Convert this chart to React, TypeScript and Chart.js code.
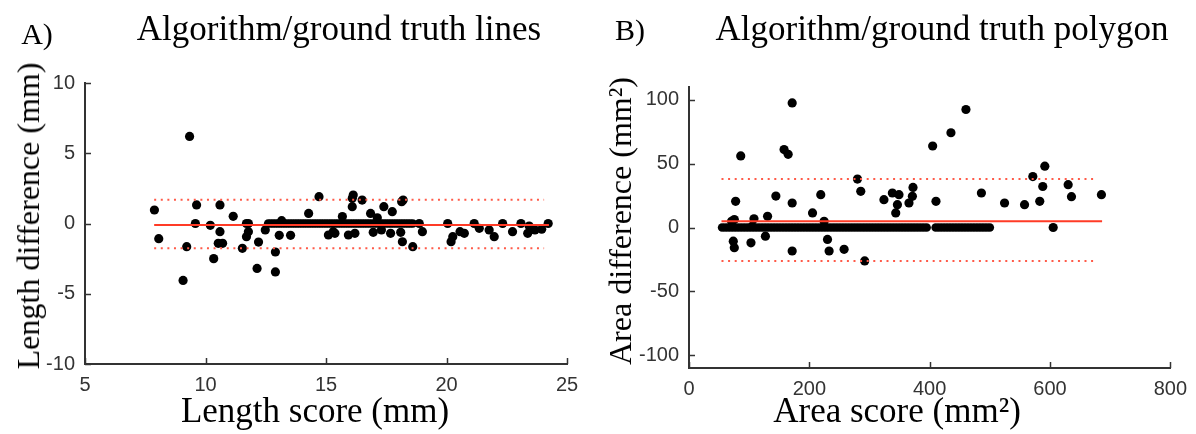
import React, { useEffect, useRef } from "react";
import { Chart, registerables } from "chart.js";

Chart.register(...registerables);

// ---------- Panel A data: Length ----------
const lengthScore = [
  7.88, 8.06, 9.07, 9.22, 9.34, 9.63, 9.58, 10.2, 10.34, 10.6, 10.6, 10.53, 10.71,
  11.15, 11.53, 11.7, 11.78, 11.78, 11.7, 12.14, 12.2, 12.48, 12.9, 12.9, 13.06,
  13.53, 13.16, 14.28, 14.71, 15.1, 16.13, 16.09, 16.09, 16.5, 18.2, 18.14, 17.4,
  17.75, 16.85, 15.68, 17.13, 15.37, 15.3, 15.93, 16.2, 16.96, 17.3, 17.68, 18.1,
  18.17, 18.6, 18.87, 19.0, 20.05, 20.19, 20.26, 20.56, 20.74, 21.15, 21.36, 21.77,
  21.98, 22.33, 22.74, 23.09, 23.43, 23.37, 23.67, 23.95, 24.22,
];
const lengthDiff = [
  0.96, -1.08, -4.05, -1.65, 6.2, 1.32, 0, -0.13, -2.5, 1.32, -0.58, -1.41, -1.41,
  0.51, -1.77, 0, 0, -0.58, -0.94, -3.2, -1.32, -0.46, -3.45, -2.03, -0.84,
  -0.84, 0.2, 0.72, 1.91, -0.82, 2.03, 1.8, 1.2, 1.67, 1.67, 1.55, 1.2,
  0.84, 0.72, 0.49, 0.41, -0.7, -0.58, -0.82, -0.7, -0.63, -0.46, -0.7, -0.63,
  -1.3, -1.65, 0, -0.58, 0, -1.3, -0.94, -0.58, -0.7, 0, -0.34, -0.46,
  -0.94, 0, -0.58, 0, -0.18, -0.7, -0.46, -0.41, 0,
];
// dense run of cases with zero difference
const lengthBandScore = [
  12.6, 12.7, 12.8, 12.9, 13.0, 13.1, 13.2, 13.3, 13.4, 13.5, 13.6, 13.7, 13.8,
  13.9, 14.0, 14.1, 14.2, 14.3, 14.4, 14.5, 14.6, 14.7, 14.8, 14.9, 15.0, 15.1,
  15.2, 15.3, 15.4, 15.5, 15.6, 15.7, 15.8, 15.9, 16.0, 16.1, 16.2, 16.3, 16.4,
  16.5, 16.6, 16.7, 16.8, 16.9, 17.0, 17.1, 17.2, 17.3, 17.4, 17.5, 17.6, 17.7,
  17.8, 17.9, 18.0, 18.1, 18.2, 18.3, 18.4, 18.5, 18.6,
];
const lengthBandDiff = [
  0, 0, 0, 0, 0, 0, 0, 0, 0, 0, 0, 0, 0,
  0, 0, 0, 0, 0, 0, 0, 0, 0, 0, 0, 0, 0,
  0, 0, 0, 0, 0, 0, 0, 0, 0, 0, 0, 0, 0,
  0, 0, 0, 0, 0, 0, 0, 0, 0, 0, 0, 0, 0,
  0, 0, 0, 0, 0, 0, 0, 0, 0,
];
const lengthXTicks = [5, 10, 15, 20, 25];
const lengthYTicks = [-10, -5, 0, 5, 10];
const lengthMean = -0.1;
const lengthUpper = 1.69;
const lengthLower = -1.77;
const lengthMeanX = [7.87, 24.25];
const lengthLimitX = [7.87, 24.05];

// ---------- Panel B data: Area ----------
const areaScore = [
  86, 77.5, 73.6, 75.3, 70.8, 75.3, 103, 108, 105, 127, 130.6, 144.4, 158, 164.8,
  171.5, 171.5, 171.5, 205.3, 219, 224.6, 230.2, 232.9, 257.8, 280, 285.5, 292,
  324, 338, 349, 346.4, 343.6, 365.6, 371.3, 372.3, 405, 410.5, 435.4, 460.3, 486,
  524.5, 557.7, 571.5, 591.4, 588, 583, 605.3, 630.2, 635.7, 685.5,
];
const areaDiff = [
  56, 20.5, -10.7, -15.8, 4.9, 6.2, -12, 6.8, 1, -6.8, 8.8, 24.6, 61, 57.3,
  97.5, 19.2, -18.4, 11.4, 25.7, 4.9, -9.3, -18.4, -17.1, 37.9, 28.3, -26.2,
  21.8, 27, 25.7, 17.9, 11.4, 19.2, 24.4, 31.4, 63.8, 20.5, 74.2, 92.4, 27,
  19.2, 17.9, 39.9, 48, 32.1, 20.5, 0, 33.5, 24.1, 25.7,
];
// dense run of cases with zero difference
const areaBandScore = [
  55, 60, 65, 70, 75, 80, 85, 90, 95, 100, 105, 110, 115, 120, 125, 130, 135,
  140, 145, 150, 155, 160, 165, 170, 175, 180, 185, 190, 195, 200, 205, 210, 215,
  220, 225, 230, 235, 240, 245, 250, 255, 260, 265, 270, 275, 280, 285, 290, 295,
  300, 305, 310, 315, 320, 325, 330, 335, 340, 345, 350, 355, 360, 365, 370, 375,
  380, 385, 390, 395, 410, 415, 420, 425, 430, 435, 440, 445, 450, 455, 460, 465,
  470, 475, 480, 485, 490, 495, 500,
];
const areaBandDiff = [
  0, 0, 0, 0, 0, 0, 0, 0, 0, 0, 0, 0, 0, 0, 0, 0, 0,
  0, 0, 0, 0, 0, 0, 0, 0, 0, 0, 0, 0, 0, 0, 0, 0,
  0, 0, 0, 0, 0, 0, 0, 0, 0, 0, 0, 0, 0, 0, 0, 0,
  0, 0, 0, 0, 0, 0, 0, 0, 0, 0, 0, 0, 0, 0, 0, 0,
  0, 0, 0, 0, 0, 0, 0, 0, 0, 0, 0, 0, 0, 0, 0, 0,
  0, 0, 0, 0, 0, 0, 0,
];
const areaXTicks = [0, 200, 400, 600, 800];
const areaYTicks = [-100, -50, 0, 50, 100];
const areaMean = 4.9;
const areaUpper = 37.9;
const areaLower = -26.2;
const areaMeanX = [54, 686.6];
const areaLimitX = [54, 677];

const AXIS = "#333333";
const RED = "#ff3b26";
const RED_DOT = "#ff5a48";
const TICK_FONT = "'Liberation Sans', Arial, sans-serif";
const SERIF = "'Liberation Serif', 'Times New Roman', serif";

type PanelSpec = {
  xs: number[];
  ys: number[];
  bandXs: number[];
  bandYs: number[];
  xTicks: number[];
  yTicks: number[];
  xMin: number;
  xMax: number;
  yMin: number;
  yMax: number;
  mean: number;
  upper: number;
  lower: number;
  meanX: number[];
  limitX: number[];
  padTop: number;
  padRight: number;
  yWidth: number;
  xHeight: number;
};

// MATLAB-style tick marks pointing into the plot area
const inwardTicks = {
  id: "inwardTicks",
  afterDraw(chart: any) {
    const { ctx, chartArea } = chart;
    const xs = chart.scales.x;
    const ys = chart.scales.y;
    ctx.save();
    ctx.strokeStyle = AXIS;
    ctx.lineWidth = 1.5;
    xs.ticks.forEach((t: any) => {
      const px = Math.round(xs.getPixelForValue(t.value)) + 0.5;
      ctx.beginPath();
      ctx.moveTo(px, chartArea.bottom);
      ctx.lineTo(px, chartArea.bottom - 6);
      ctx.stroke();
    });
    ys.ticks.forEach((t: any) => {
      const py = Math.round(ys.getPixelForValue(t.value)) + 0.5;
      ctx.beginPath();
      ctx.moveTo(chartArea.left, py);
      ctx.lineTo(chartArea.left + 6, py);
      ctx.stroke();
    });
    ctx.restore();
  },
};

function buildConfig(s: PanelSpec): any {
  const pts = s.xs.map((x, i) => ({ x, y: s.ys[i] }));
  const band = s.bandXs.map((x, i) => ({ x, y: s.bandYs[i] }));
  const hline = (xr: number[], y: number) => xr.map((x) => ({ x, y }));
  const tickCommon = {
    color: AXIS,
    font: { family: TICK_FONT, size: 20 },
    autoSkip: false,
    callback: (v: number) => String(v),
  };
  const noGrid = { display: false, drawTicks: false, tickLength: 0 };
  return {
    type: "scatter",
    data: {
      datasets: [
        {
          data: hline(s.meanX, s.mean),
          showLine: true,
          borderColor: RED,
          borderWidth: 2,
          pointRadius: 0,
        },
        {
          data: hline(s.limitX, s.upper),
          showLine: true,
          borderColor: RED_DOT,
          borderWidth: 2,
          borderDash: [2, 4.6],
          pointRadius: 0,
        },
        {
          data: hline(s.limitX, s.lower),
          showLine: true,
          borderColor: RED_DOT,
          borderWidth: 2,
          borderDash: [2, 4.6],
          pointRadius: 0,
        },
        {
          data: pts,
          backgroundColor: "#000000",
          borderWidth: 0,
          pointRadius: 4.6,
        },
        {
          data: band,
          backgroundColor: "#000000",
          borderWidth: 0,
          pointRadius: 4.3,
        },
      ],
    },
    options: {
      animation: false,
      responsive: false,
      devicePixelRatio: 1,
      events: [],
      layout: { padding: { top: s.padTop, right: s.padRight, left: 0, bottom: 0 } },
      plugins: { legend: { display: false }, tooltip: { enabled: false } },
      scales: {
        x: {
          type: "linear",
          position: "bottom",
          min: s.xMin,
          max: s.xMax,
          afterBuildTicks: (sc: any) => {
            sc.ticks = s.xTicks.map((v) => ({ value: v }));
          },
          afterFit: (sc: any) => {
            sc.height = s.xHeight;
          },
          ticks: { ...tickCommon, padding: 9, maxRotation: 0 },
          grid: noGrid,
          border: { display: true, color: AXIS, width: 2 },
        },
        y: {
          type: "linear",
          position: "left",
          min: s.yMin,
          max: s.yMax,
          afterBuildTicks: (sc: any) => {
            sc.ticks = s.yTicks.map((v) => ({ value: v }));
          },
          afterFit: (sc: any) => {
            sc.width = s.yWidth;
          },
          ticks: { ...tickCommon, padding: 10 },
          grid: noGrid,
          border: { display: true, color: AXIS, width: 2 },
        },
      },
    },
    plugins: [inwardTicks],
  };
}

function Panel({ spec, left }: { spec: PanelSpec; left: number }) {
  const ref = useRef<HTMLCanvasElement | null>(null);
  useEffect(() => {
    if (!ref.current) return;
    const chart = new Chart(ref.current, buildConfig(spec));
    return () => chart.destroy();
  }, [spec]);
  return (
    <canvas
      ref={ref}
      width={598}
      height={434}
      style={{ position: "absolute", left, top: 0, width: 598, height: 434 }}
    />
  );
}

const specA: PanelSpec = {
  xs: lengthScore,
  ys: lengthDiff,
  bandXs: lengthBandScore,
  bandYs: lengthBandDiff,
  xTicks: lengthXTicks,
  yTicks: lengthYTicks,
  xMin: 5,
  xMax: 25,
  yMin: -10,
  yMax: 10,
  mean: lengthMean,
  upper: lengthUpper,
  lower: lengthLower,
  meanX: lengthMeanX,
  limitX: lengthLimitX,
  padTop: 83,
  padRight: 31,
  yWidth: 85,
  xHeight: 70,
};

const specB: PanelSpec = {
  xs: areaScore,
  ys: areaDiff,
  bandXs: areaBandScore,
  bandYs: areaBandDiff,
  xTicks: areaXTicks,
  yTicks: areaYTicks,
  xMin: 0,
  xMax: 800,
  yMin: -110,
  yMax: 110,
  mean: areaMean,
  upper: areaUpper,
  lower: areaLower,
  meanX: areaMeanX,
  limitX: areaLimitX,
  padTop: 87,
  padRight: 25,
  yWidth: 91,
  xHeight: 66,
};

const textBase: React.CSSProperties = {
  position: "absolute",
  fontFamily: SERIF,
  color: "#000",
  whiteSpace: "nowrap",
  lineHeight: 1,
};

function Label({
  text,
  cx,
  cy,
  size,
  rotate,
}: {
  text: React.ReactNode;
  cx: number;
  cy: number;
  size: number;
  rotate?: boolean;
}) {
  return (
    <div
      style={{
        ...textBase,
        left: cx,
        top: cy,
        fontSize: size,
        transform: `translate(-50%, -50%)${rotate ? " rotate(-90deg)" : ""}`,
      }}
    >
      {text}
    </div>
  );
}

export default function App() {
  useEffect(() => {
    document.body.style.margin = "0";
  }, []);
  return (
    <div style={{ position: "relative", width: 1196, height: 434, background: "#fff", overflow: "hidden" }}>
      <Panel spec={specA} left={0} />
      <Panel spec={specB} left={598} />
      <Label text="A)" cx={37} cy={34} size={30} />
      <Label text="Algorithm/ground truth lines" cx={339} cy={28} size={35} />
      <Label text="Length difference (mm)" cx={28} cy={216} size={32} rotate />
      <Label text="Length score (mm)" cx={315} cy={410} size={35} />
      <Label text="B)" cx={630} cy={30} size={30} />
      <Label text="Algorithm/ground truth polygon" cx={942} cy={28} size={35} />
      <Label text="Area difference (mm²)" cx={620} cy={221} size={32} rotate />
      <Label text="Area score (mm²)" cx={897} cy={410} size={35} />
    </div>
  );
}
